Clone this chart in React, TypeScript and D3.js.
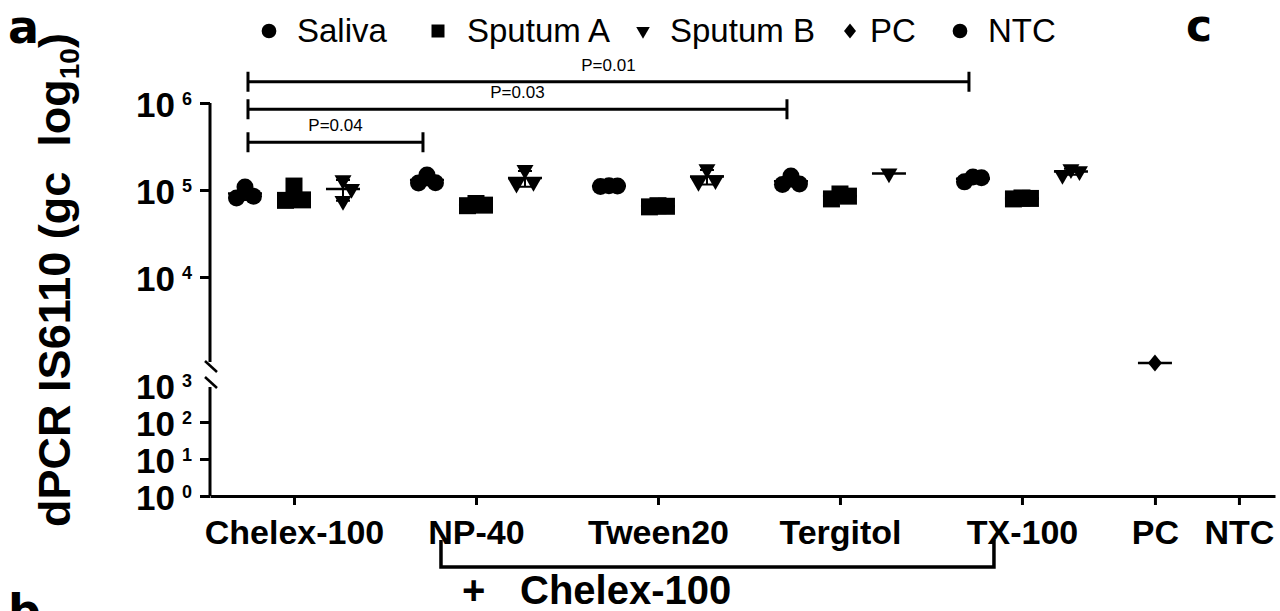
import * as d3 from 'd3'
import { useEffect, useRef } from 'react'

const detergents = ['Chelex-100', 'NP-40', 'Tween20', 'Tergitol', 'TX-100']
const controls = ['PC', 'NTC']
const sampleTypes = ['Saliva', 'Sputum A', 'Sputum B']

// IS6110 copies, replicates per detergent (rows follow `detergents`)
const saliva = [
  [1.08e5, 8.5e4, 8.1e4],
  [1.49e5, 1.21e5, 1.20e5],
  [1.12e5, 1.11e5, 1.10e5],
  [1.45e5, 1.17e5, 1.16e5],
  [1.41e5, 1.38e5, 1.24e5],
]
const sputumA = [
  [1.11e5, 7.7e4, 7.6e4],
  [7.0e4, 6.7e4, 6.6e4],
  [6.6e4, 6.5e4, 6.4e4],
  [9.0e4, 8.5e4, 7.9e4],
  [8.1e4, 8.0e4, 7.9e4],
]
const sputumB = [
  [1.30e5, 1.03e5, 7.5e4],
  [1.70e5, 1.24e5, 1.18e5],
  [1.74e5, 1.30e5, 1.24e5],
  [1.55e5],
  [1.74e5, 1.65e5, 1.49e5],
]
const pcValues = [1.03e3]
const ntcValues: number[] = []

const comparisons = [
  { from: 'Chelex-100', to: 'NP-40', label: 'P=0.04', level: 3.55e5 },
  { from: 'Chelex-100', to: 'Tergitol', label: 'P=0.03', level: 8.5e5 },
  { from: 'Chelex-100', to: 'TX-100', label: 'P=0.01', level: 1.75e6 },
]

const upperTicks = [1e4, 1e5, 1e6]
const lowerTicks = [1, 10, 100]
const lowerLabels = [1, 10, 100, 1000]

const FONT = '"Liberation Sans", Arial, sans-serif'
const PANEL_FONT = '"DejaVu Sans", "Liberation Sans", sans-serif'

const diamond = (hw: number, hh: number) => ({
  draw(ctx: d3.Path) {
    ctx.moveTo(0, -hh); ctx.lineTo(hw, 0); ctx.lineTo(0, hh); ctx.lineTo(-hw, 0); ctx.closePath()
  },
})

// spread overlapping replicates sideways, GraphPad style
function dodge(ys: number[], step: number, gap: number): number[] {
  const order = d3.range(ys.length).sort((a, b) => ys[a] - ys[b])
  const offs = ys.map(() => 0)
  const placed: number[] = []
  for (const i of order) {
    for (const k of [0, 1, -1, 2, -2]) {
      const ok = placed.every(j =>
        Math.abs(offs[j] - k * step) >= step - 0.01 || Math.abs(ys[j] - ys[i]) >= gap)
      if (ok) { offs[i] = k * step; break }
    }
    placed.push(i)
  }
  return offs
}

export default function App() {
  const ref = useRef<SVGSVGElement | null>(null)

  useEffect(() => {
    if (!ref.current) return
    const svg = d3.select(ref.current)
    svg.selectAll('*').remove()

    const W = 1280
    const H = 611
    svg.attr('viewBox', `0 0 ${W} ${H}`)

    // column units: 1 between samples, 1.714 gap between detergent groups
    const gap = 1.714
    const stride = 2 + gap
    const colUnit = (g: number, s: number) => g * stride + s
    const ctrlUnit = (i: number) => (detergents.length - 1) * stride + 2 + gap * (i + 1)

    const x = d3.scaleLinear().domain([-0.714, 21.02]).range([210, 1275])
    const yUp = d3.scaleLog().domain([1e3, 1e6]).range([364, 103])
    const yLo = d3.scaleLog().domain([1, 1e3]).range([496, 385])

    const black = '#000'

    // y axis, two segments
    const axUp = svg.append('g').attr('transform', 'translate(210,0)')
      .call(d3.axisLeft(yUp).tickValues(upperTicks).tickFormat(() => '').tickSize(10).tickSizeOuter(0))
    const axLo = svg.append('g').attr('transform', 'translate(210,0)')
      .call(d3.axisLeft(yLo).tickValues(lowerTicks).tickFormat(() => '').tickSize(10).tickSizeOuter(0))
    for (const ax of [axUp, axLo]) {
      ax.select('.domain').attr('stroke', black).attr('stroke-width', 3)
      ax.selectAll('.tick line').attr('stroke', black).attr('stroke-width', 3)
    }
    axUp.select('.domain').attr('d', `M0,${yUp(1e6)}V362`)
    axLo.select('.domain').attr('d', `M0,387V${yLo(1)}`)

    // axis break marks
    svg.append('line').attr('x1', 205).attr('y1', 361).attr('x2', 217).attr('y2', 372)
      .attr('stroke', black).attr('stroke-width', 2.5)
    svg.append('line').attr('x1', 205).attr('y1', 377).attr('x2', 217).attr('y2', 388)
      .attr('stroke', black).attr('stroke-width', 2.5)

    const tickLabel = (v: number, y: number) => {
      const e = Math.round(Math.log10(v))
      svg.append('text').attr('x', 175).attr('y', y + 14).attr('text-anchor', 'end')
        .attr('font-family', FONT).attr('font-weight', 700).attr('font-size', 35).text('10')
      svg.append('text').attr('x', 182).attr('y', y + 2)
        .attr('font-family', FONT).attr('font-weight', 700).attr('font-size', 18).text(String(e))
    }
    upperTicks.forEach(v => tickLabel(v, yUp(v)))
    lowerLabels.forEach(v => tickLabel(v, yLo(v)))

    // y title
    const title = svg.append('text')
      .attr('transform', 'translate(70,280) rotate(-90)')
      .attr('text-anchor', 'middle').attr('font-family', FONT).attr('font-weight', 700)
      .attr('font-size', 45).style('white-space', 'pre')
    title.append('tspan').text('dPCR IS6110 (gc  log')
    title.append('tspan').attr('font-size', 28).attr('dy', 9).text('10')
    title.append('tspan').attr('dy', -9).text(')')

    // x axis
    const tickUnits = [...detergents.map((_, g) => colUnit(g, 1)), ...controls.map((_, i) => ctrlUnit(i))]
    const tickNames = [...detergents, ...controls]
    const axX = svg.append('g').attr('transform', 'translate(0,496)')
      .call(d3.axisBottom(x).tickValues(tickUnits).tickFormat((_, i) => tickNames[i])
        .tickSize(9).tickSizeOuter(0).tickPadding(15))
    axX.select('.domain').attr('stroke', black).attr('stroke-width', 3)
    axX.selectAll('.tick line').attr('stroke', black).attr('stroke-width', 3)
    axX.selectAll('.tick text').attr('fill', black).attr('font-family', FONT)
      .attr('font-weight', 700).attr('font-size', 34)

    // "+ Chelex-100" bracket
    const bx0 = x(colUnit(1, 1)) - 35
    const bx1 = x(colUnit(4, 1)) - 28
    svg.append('path').attr('d', `M${bx0},540V567H${bx1}V540`)
      .attr('fill', 'none').attr('stroke', black).attr('stroke-width', 3.5)
    const plus = svg.append('text').attr('y', 604).attr('font-family', FONT)
      .attr('font-weight', 700).attr('font-size', 40)
    plus.append('tspan').attr('x', 462).text('+')
    plus.append('tspan').attr('x', 520).text('Chelex-100')

    // data
    const symbols = [
      { type: d3.symbolCircle, size: 227, rot: 0 },
      { type: d3.symbolSquare, size: 289, rot: 0 },
      { type: d3.symbolTriangle, size: 125, rot: 180 },
    ]
    const series = [saliva, sputumA, sputumB]
    const plot = svg.append('g')

    type Col = { cx: number; values: number[]; sym: d3.SymbolType; size: number; rot: number }
    const cols: Col[] = []
    detergents.forEach((_, g) => {
      sampleTypes.forEach((__, s) => {
        cols.push({ cx: x(colUnit(g, s)), values: series[s][g], sym: symbols[s].type, size: symbols[s].size, rot: symbols[s].rot })
      })
    })
    cols.push({ cx: x(ctrlUnit(0)), values: pcValues, sym: diamond(7, 8.5), size: 1, rot: 0 })
    cols.push({ cx: x(ctrlUnit(1)), values: ntcValues, sym: d3.symbolCircle, size: 227, rot: 0 })

    for (const c of cols) {
      if (c.values.length === 0) continue
      const ys = c.values.map(v => yUp(v))
      const offs = dodge(ys, 8.5, 17)
      const m = d3.mean(c.values) ?? 0
      const sd = c.values.length > 1 ? (d3.deviation(c.values) ?? 0) : 0
      if (sd > 0) {
        const yt = yUp(m + sd)
        const yb = yUp(m - sd)
        plot.append('path').attr('d', `M${c.cx},${yt}V${yb}M${c.cx - 7},${yt}H${c.cx + 7}M${c.cx - 7},${yb}H${c.cx + 7}`)
          .attr('stroke', black).attr('stroke-width', 2).attr('fill', 'none')
      }
      c.values.forEach((_, i) => {
        plot.append('path')
          .attr('d', d3.symbol().type(c.sym).size(c.size)()!)
          .attr('transform', `translate(${c.cx + offs[i]},${ys[i]}) rotate(${c.rot})`)
          .attr('fill', black)
      })
      plot.append('line').attr('x1', c.cx - 17).attr('x2', c.cx + 17)
        .attr('y1', yUp(m)).attr('y2', yUp(m)).attr('stroke', black).attr('stroke-width', 2.5)
    }

    // significance brackets
    for (const cmp of comparisons) {
      const xa = x(colUnit(detergents.indexOf(cmp.from), 0)) + 3
      const xb = x(colUnit(detergents.indexOf(cmp.to), 0)) - 4
      const yv = yUp(cmp.level)
      svg.append('path').attr('d', `M${xa},${yv - 10}V${yv + 10}M${xa},${yv}H${xb}M${xb},${yv - 10}V${yv + 10}`)
        .attr('stroke', black).attr('stroke-width', 3).attr('fill', 'none')
      svg.append('text').attr('x', (xa + xb) / 2).attr('y', yv - 11).attr('text-anchor', 'middle')
        .attr('font-family', FONT).attr('font-size', 17).text(cmp.label)
    }

    // legend
    const legend = [
      { name: 'Saliva', sym: d3.symbolCircle, size: 170, rot: 0, sx: 269, tx: 297 },
      { name: 'Sputum A', sym: d3.symbolSquare, size: 169, rot: 0, sx: 438, tx: 467 },
      { name: 'Sputum B', sym: d3.symbolTriangle, size: 80, rot: 180, sx: 643, tx: 670 },
      { name: 'PC', sym: diamond(6, 7.5), size: 1, rot: 0, sx: 850, tx: 870 },
      { name: 'NTC', sym: d3.symbolCircle, size: 170, rot: 0, sx: 960, tx: 988 },
    ]
    for (const l of legend) {
      svg.append('path').attr('d', d3.symbol().type(l.sym).size(l.size)()!)
        .attr('transform', `translate(${l.sx},31) rotate(${l.rot})`).attr('fill', black)
      svg.append('text').attr('x', l.tx).attr('y', 42).attr('font-family', FONT)
        .attr('font-size', 33).text(l.name)
    }

    // panel letters
    svg.append('text').attr('x', 8).attr('y', 43).attr('font-family', PANEL_FONT)
      .attr('font-weight', 700).attr('font-size', 46).text('a')
    svg.append('text').attr('x', 1186).attr('y', 41).attr('font-family', PANEL_FONT)
      .attr('font-weight', 700).attr('font-size', 44).text('c')
    svg.append('text').attr('x', 8).attr('y', 627).attr('font-family', PANEL_FONT)
      .attr('font-weight', 700).attr('font-size', 46).text('b')
  }, [])

  return (
    <svg ref={ref} width={1280} height={611}
      style={{ position: 'absolute', left: 0, top: 0, background: '#fff' }} />
  )
}
